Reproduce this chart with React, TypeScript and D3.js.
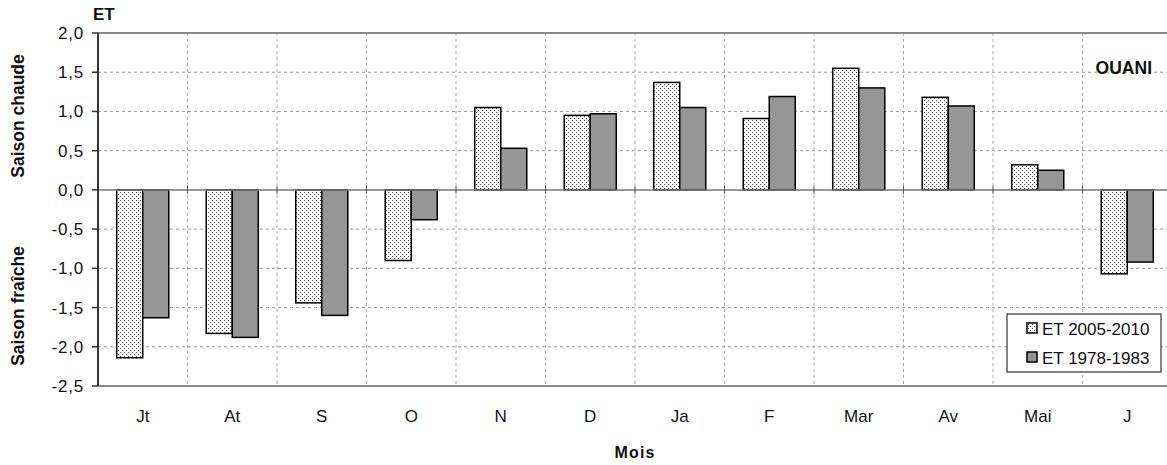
import React from "react";
import * as d3 from "d3";

const categories = ["Jt", "At", "S", "O", "N", "D", "Ja", "F", "Mar", "Av", "Mai", "J"];
const series = ["ET 2005-2010", "ET 1978-1983"];
const et2005 = [-2.14, -1.83, -1.44, -0.9, 1.05, 0.95, 1.37, 0.91, 1.55, 1.18, 0.32, -1.07];
const et1978 = [-1.63, -1.88, -1.6, -0.38, 0.53, 0.97, 1.05, 1.19, 1.3, 1.07, 0.25, -0.92];
const yTicks = [2.0, 1.5, 1.0, 0.5, 0.0, -0.5, -1.0, -1.5, -2.0, -2.5];

const W = 1167;
const H = 465;
const FONT = "'Liberation Sans', Arial, sans-serif";

export default function App() {
  const left = 98;
  const right = 1172;
  const top = 33;
  const bottom = 386;

  const x0 = d3.scaleBand<string>().domain(categories).range([left, right]).padding(0);
  const x1 = d3
    .scaleBand<string>()
    .domain(series)
    .range([0, x0.bandwidth()])
    .paddingInner(0)
    .paddingOuter(0.72);
  const y = d3.scaleLinear().domain([-2.5, 2.0]).range([bottom, top]);
  const fmt = (v: number) => d3.format(".1f")(v).replace(".", ",").replace("−", "-");

  const data = [et2005, et1978];
  const fills = ["url(#dots)", "#969696"];

  const boundaries = categories.map((c) => x0(c)!).concat([right]);

  return (
    <div style={{ position: "absolute", left: 0, top: 0 }}>
      <svg width={W} height={H} style={{ display: "block", background: "#fff" }} fontFamily={FONT}>
        <defs>
          <pattern id="dots" width="4" height="4" patternUnits="userSpaceOnUse">
            <rect width="4" height="4" fill="#fff" />
            <rect x="0" y="0" width="1" height="1" fill="#444" />
            <rect x="2" y="2" width="1" height="1" fill="#444" />
          </pattern>
        </defs>
        {yTicks.map((t) =>
          t === 0 || t === 2 || t === -2.5 ? null : (
            <line key={"h" + t} x1={left} x2={right} y1={y(t)} y2={y(t)} stroke="#999" strokeWidth={1} strokeDasharray="3,3" />
          )
        )}
        {boundaries.slice(1, -1).map((b, i) => (
          <line key={"v" + i} x1={b} x2={b} y1={top} y2={bottom} stroke="#aaa" strokeWidth={1} strokeDasharray="3,3" />
        ))}
        <line x1={left} x2={right} y1={top} y2={top} stroke="#888" strokeWidth={2} />
        <line x1={left} x2={right} y1={bottom} y2={bottom} stroke="#888" strokeWidth={2} />
        {data.map((vals, si) =>
          vals.map((v, i) => {
            const bx = x0(categories[i])! + x1(series[si])!;
            const y0 = y(0);
            const yv = y(v);
            return (
              <rect
                key={si + "-" + i}
                x={bx}
                y={Math.min(y0, yv)}
                width={x1.bandwidth()}
                height={Math.abs(yv - y0)}
                fill={fills[si]}
                stroke="#000"
                strokeWidth={1.5}
              />
            );
          })
        )}
        <line x1={left} x2={right} y1={y(0)} y2={y(0)} stroke="#777" strokeWidth={1.5} />
        {boundaries.slice(1, -1).map((b, i) => (
          <line key={"xt" + i} x1={b} x2={b} y1={y(0) - 4} y2={y(0) + 4} stroke="#555" strokeWidth={1} />
        ))}
        <line x1={left} x2={left} y1={top} y2={bottom} stroke="#333" strokeWidth={2} />
        {yTicks.map((t) => (
          <g key={"yt" + t}>
            <line x1={left - 6} x2={left} y1={y(t)} y2={y(t)} stroke="#333" strokeWidth={1.5} />
            <text x={84} y={y(t) + 6} textAnchor="end" fontSize={17} letterSpacing={0.8} fill="#111">
              {fmt(t)}
            </text>
          </g>
        ))}
        {categories.map((c) => (
          <text key={"xl" + c} x={x0(c)! + x0.bandwidth() / 2} y={421.5} textAnchor="middle" fontSize={17} fill="#111">
            {c}
          </text>
        ))}
        <text x={(left + right) / 2} y={458} textAnchor="middle" fontSize={16} fontWeight="bold" letterSpacing={1.2} fill="#111">
          Mois
        </text>
        <text x={93} y={20} fontSize={17} fontWeight="bold" fill="#111">
          ET
        </text>
        <text x={1152} y={74} textAnchor="end" fontSize={17.5} fontWeight="bold" fill="#111">
          OUANI
        </text>
        <text transform={`translate(24,116) rotate(-90)`} textAnchor="middle" fontSize={17.5} fontWeight="bold" fill="#111">
          Saison chaude
        </text>
        <text transform={`translate(24,306) rotate(-90)`} textAnchor="middle" fontSize={17.5} fontWeight="bold" fill="#111">
          Saison fraîche
        </text>
        <rect x={1007} y={314} width={154} height={58} fill="#fff" stroke="#333" strokeWidth={1.2} />
        {series.map((s, i) => (
          <g key={"lg" + s}>
            <rect x={1027} y={323 + i * 29} width={10} height={10} fill={fills[i]} stroke="#000" strokeWidth={1.5} />
            <text x={1042} y={334.5 + i * 29} fontSize={17} fill="#111">
              {s}
            </text>
          </g>
        ))}
      </svg>
    </div>
  );
}
